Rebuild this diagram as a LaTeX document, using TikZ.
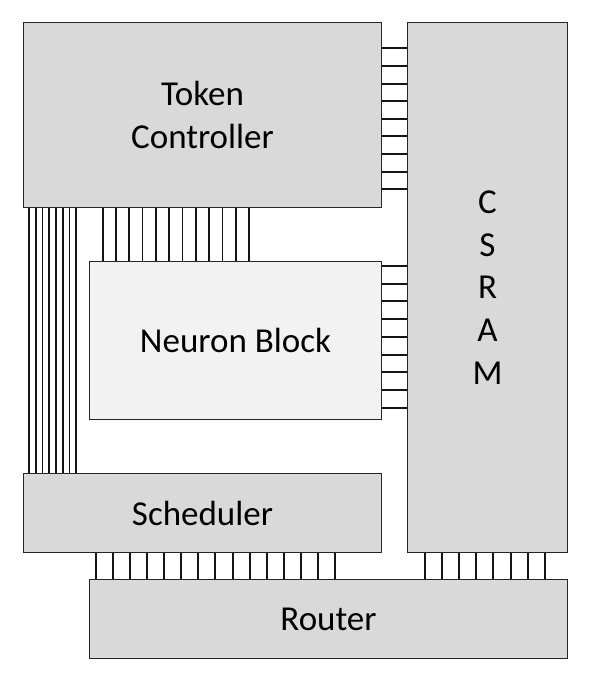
\documentclass[tikz,border=0pt]{standalone}
\usepackage{fontspec}
\setmainfont{Carlito}
\begin{document}
\begin{tikzpicture}[x=1pt,y=-1pt,
  blockbox/.style={draw=black!85,line width=1pt,fill=black!15,inner sep=0pt,anchor=north west,
    font=\fontsize{35}{42.7}\selectfont,align=center,text=black,text depth=0pt},
  lightbox/.style={blockbox,fill=black!5},
  wire/.style={draw=black!92,line width=2pt}]
\useasboundingbox (0,0) rectangle (598,691);
% blocks
\node[blockbox,minimum width=358pt,minimum height=185pt] (tc) at (23,22) {Token\\Controller};
\node[blockbox,minimum width=160pt,minimum height=530pt] (csram) at (407,22) {C\\S\\R\\A\\M};
\node[lightbox,minimum width=292pt,minimum height=158pt] (nb) at (89,261) {Neuron Block};
\node[blockbox,minimum width=358pt,minimum height=79pt] (sch) at (23,473) {Scheduler};
\node[blockbox,minimum width=478pt,minimum height=79pt] (rt) at (89,579) {Router};
% Token Controller -> CSRAM
\foreach \y in {48.3,65.9,83.5,101.1,118.7,136.3,153.9,171.5,189.1}
  \draw[wire] (tc.east |- 0,\y) -- (csram.west |- 0,\y);
% Neuron Block -> CSRAM
\foreach \y in {266,283.7,301.4,319.1,336.8,354.5,372.2,389.9,407.6}
  \draw[wire] (nb.east |- 0,\y) -- (csram.west |- 0,\y);
% Token Controller -> Scheduler
\foreach \x in {29,35.8,42.5,49.3,56,62.8,69.5,76.3}
  \draw[wire,line width=1.7pt] (tc.south -| \x,0) -- (sch.north -| \x,0);
% Token Controller -> Neuron Block
\foreach \x in {102.7,116,129.3,142.6,155.9,169.2,182.5,195.8,209.1,222.4,235.7,249}
  \draw[wire,line width=1.7pt] (tc.south -| \x,0) -- (nb.north -| \x,0);
% Scheduler -> Router
\foreach \x in {95.7,112.8,129.9,147,164.1,181.2,198.3,215.4,232.5,249.6,266.7,283.8,300.9,318,335.1}
  \draw[wire] (sch.south -| \x,0) -- (rt.north -| \x,0);
% CSRAM -> Router
\foreach \x in {425,442.1,459.2,476.3,493.4,510.5,527.6,544.7}
  \draw[wire] (csram.south -| \x,0) -- (rt.north -| \x,0);
\end{tikzpicture}
\end{document}
